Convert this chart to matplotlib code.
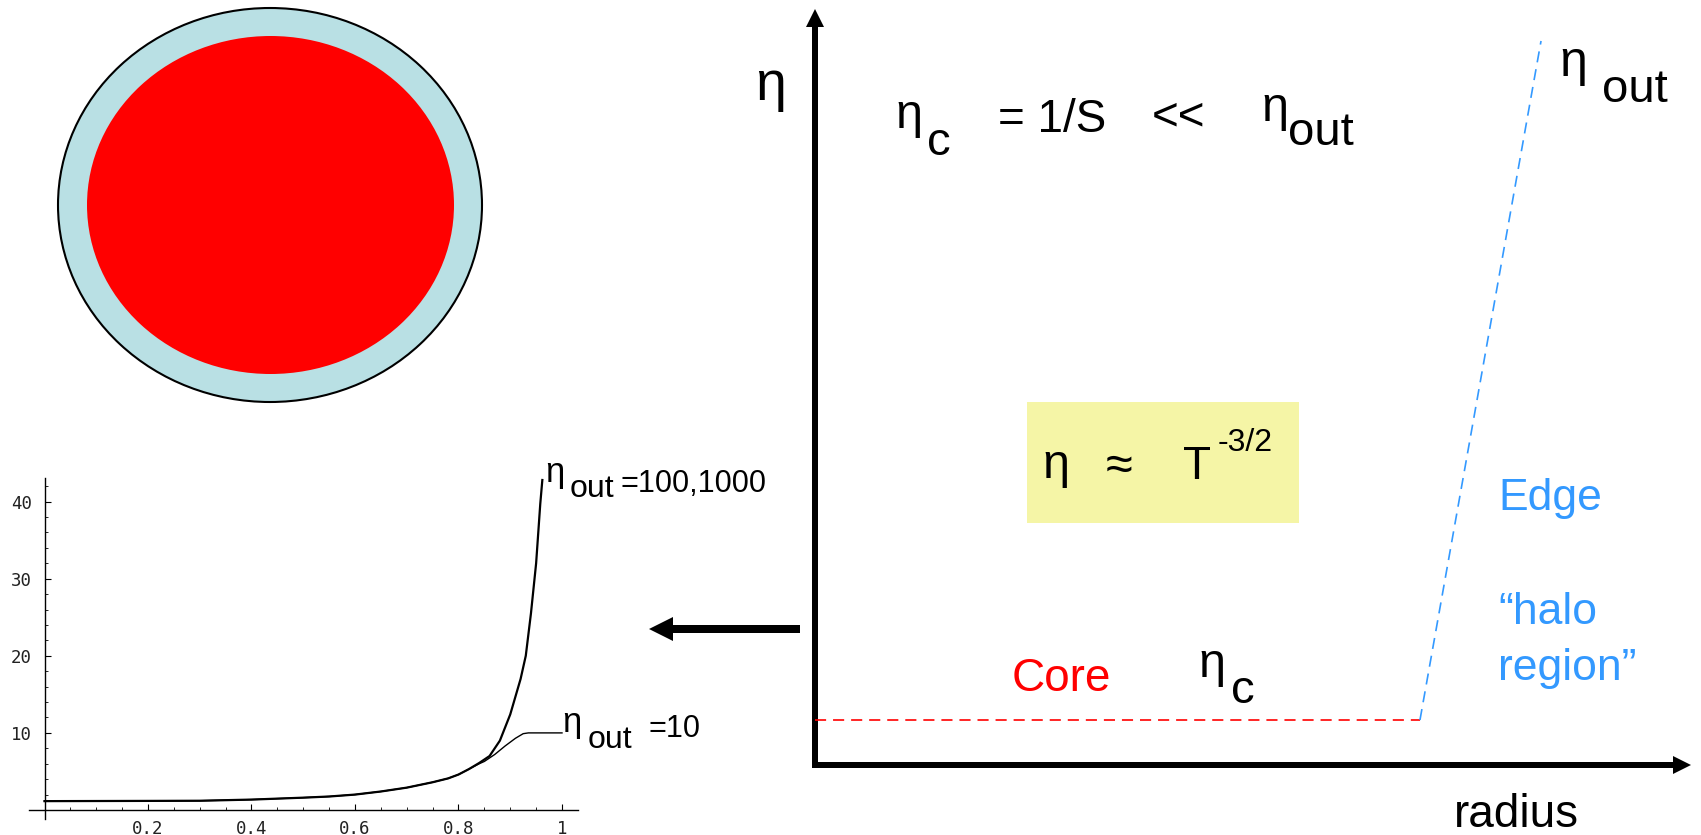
import numpy as np
import matplotlib
matplotlib.use("Agg")
import matplotlib.pyplot as plt
from matplotlib.patches import Ellipse, Rectangle
from matplotlib.ticker import MultipleLocator

plt.rcParams['font.family'] = ['Liberation Sans', 'DejaVu Sans']
plt.rcParams['lines.scale_dashes'] = False

### schematic resistivity profile (radius and eta as fractions of the axes)
r_core = [0.0, 0.6906]
eta_core = [0.0595, 0.0595]
r_edge = [0.6906, 0.8288]
eta_edge = [0.0595, 0.9577]

### computed profiles
r_prof_100 = [0.0, 0.2, 0.3, 0.4, 0.5, 0.55, 0.6, 0.65, 0.7, 0.75, 0.78, 0.8, 0.82,
              0.84, 0.86, 0.88, 0.9, 0.92, 0.93, 0.94, 0.95, 0.958, 0.962]
eta_prof_100 = [1.15, 1.18, 1.2, 1.35, 1.6, 1.75, 2.0, 2.4, 2.9, 3.6, 4.1, 4.6, 5.3,
                6.1, 7.0, 9.0, 12.4, 17.0, 20.0, 25.5, 32.0, 39.7, 42.8]
r_prof_10 = [0.0, 0.2, 0.3, 0.4, 0.5, 0.55, 0.6, 0.65, 0.7, 0.75, 0.78, 0.8, 0.82,
             0.84, 0.85, 0.87, 0.89, 0.91, 0.925, 0.935, 1.0]
eta_prof_10 = [1.15, 1.18, 1.2, 1.35, 1.6, 1.75, 2.0, 2.4, 2.9, 3.6, 4.1, 4.6, 5.3,
               6.0, 6.3, 7.2, 8.3, 9.3, 9.9, 10.0, 10.0]
x_ticks = [0.2, 0.4, 0.6, 0.8, 1.0]
x_tick_labels = ['0.2', '0.4', '0.6', '0.8', '1']
y_ticks = [10, 20, 30, 40]

blue = '#3399ff'
W, H = 1701, 835
fig = plt.figure(figsize=(W / 100, H / 100), dpi=100)

### overlay in pixel units for shapes and labels
ov = fig.add_axes([0, 0, 1, 1])
ov.set_xlim(0, W)
ov.set_ylim(H, 0)
ov.axis('off')

ov.add_patch(Ellipse((270, 205), 424, 394, facecolor='#b9e0e4', edgecolor='black', lw=1.5))
ov.add_patch(Ellipse((270.5, 205), 367, 338, facecolor='#ff0000', edgecolor='none'))
ov.add_patch(Rectangle((1027, 402), 272, 121, facecolor='#f5f5a6', edgecolor='none'))

# axes arrows and pointer arrow
ov.arrow(815, 768, 0, -759, width=6, head_width=18, head_length=18,
         length_includes_head=True, fc='black', ec='none')
ov.arrow(812, 765, 879, 0, width=6, head_width=18, head_length=18,
         length_includes_head=True, fc='black', ec='none')
ov.arrow(800, 629, -151, 0, width=8, head_width=24, head_length=24,
         length_includes_head=True, fc='black', ec='none')

def txt(x, y, s, size, color='black'):
    ov.text(x, y, s, fontsize=size, color=color, ha='left', va='baseline')

txt(755, 100, 'η', 40)
# eta_c = 1/S << eta_out
txt(895, 128, 'η', 35)
txt(927, 155, 'c', 34)
txt(998, 132, '= 1/S', 33)
txt(1152, 130, '<<', 33)
txt(1261, 121, 'η', 35)
txt(1288, 145, 'out', 34)
# top right
txt(1559, 76, 'η', 36)
txt(1602, 102, 'out', 34)
# box
txt(1042, 478, 'η', 35)
txt(1106, 480, '≈', 35)
txt(1183, 479, 'T', 33)
txt(1218, 451, '-3/2', 23)
# labels
txt(1498, 510, 'Edge', 32, blue)
txt(1498, 624, '“halo', 32, blue)
txt(1498, 680, 'region”', 32, blue)
txt(1012, 691, 'Core', 33, '#ff0000')
txt(1198, 677, 'η', 35)
txt(1231, 703, 'c', 34)
txt(1454, 827, 'radius', 33)
# small plot labels
txt(545, 482, 'η', 25)
txt(570, 497, 'out', 23)
txt(620, 492, '=100,1000', 22)
txt(562, 732, 'η', 25)
txt(588, 748, 'out', 23)
txt(648, 737, '=10', 22)

### main schematic
ax = fig.add_axes([815 / W, (H - 765) / H, (1691 - 815) / W, (765 - 9) / H])
ax.set_facecolor('none')
ax.set_xlim(0, 1)
ax.set_ylim(0, 1)
ax.axis('off')
ax.plot(r_core, eta_core, color='#ff0000', lw=1.2, dashes=(8, 5))
ax.plot(r_edge, eta_edge, color=blue, lw=1.2, dashes=(8, 5))

### small mathematica-like plot
px_x0, px_x1 = 44.5, 562.0
ppx = px_x1 - px_x0
ppy = 7.71
y0px = 810.0
xl = (-0.03, 1.03)
yl = (-1.2, 43.0)
left = px_x0 + xl[0] * ppx
right = px_x0 + xl[1] * ppx
bot = y0px - yl[0] * ppy
top = y0px - yl[1] * ppy
ax2 = fig.add_axes([left / W, (H - bot) / H, (right - left) / W, (bot - top) / H])
ax2.set_facecolor('none')
ax2.set_xlim(*xl)
ax2.set_ylim(*yl)
ax2.plot(r_prof_10, eta_prof_10, color='black', lw=1.0)
ax2.plot(r_prof_100, eta_prof_100, color='black', lw=1.6)
for s in ['top', 'right']:
    ax2.spines[s].set_visible(False)
ax2.spines['left'].set_position(('data', 0))
ax2.spines['bottom'].set_position(('data', 0))
ax2.spines['left'].set_linewidth(1.0)
ax2.spines['bottom'].set_linewidth(1.0)
ax2.set_xticks(x_ticks)
ax2.set_xticklabels(x_tick_labels)
ax2.set_yticks(y_ticks)
ax2.xaxis.set_minor_locator(MultipleLocator(0.05))
ax2.yaxis.set_minor_locator(MultipleLocator(2))
ax2.tick_params(which='major', direction='in', length=4, width=0.8, pad=7,
                labelsize=12.5, labelcolor='#222222')
ax2.tick_params(axis='y', which='major', pad=9)
ax2.tick_params(which='minor', direction='in', length=2, width=0.6)
for lab in ax2.get_xticklabels() + ax2.get_yticklabels():
    lab.set_family('DejaVu Sans Mono')

fig.savefig('out.png', dpi=100)
